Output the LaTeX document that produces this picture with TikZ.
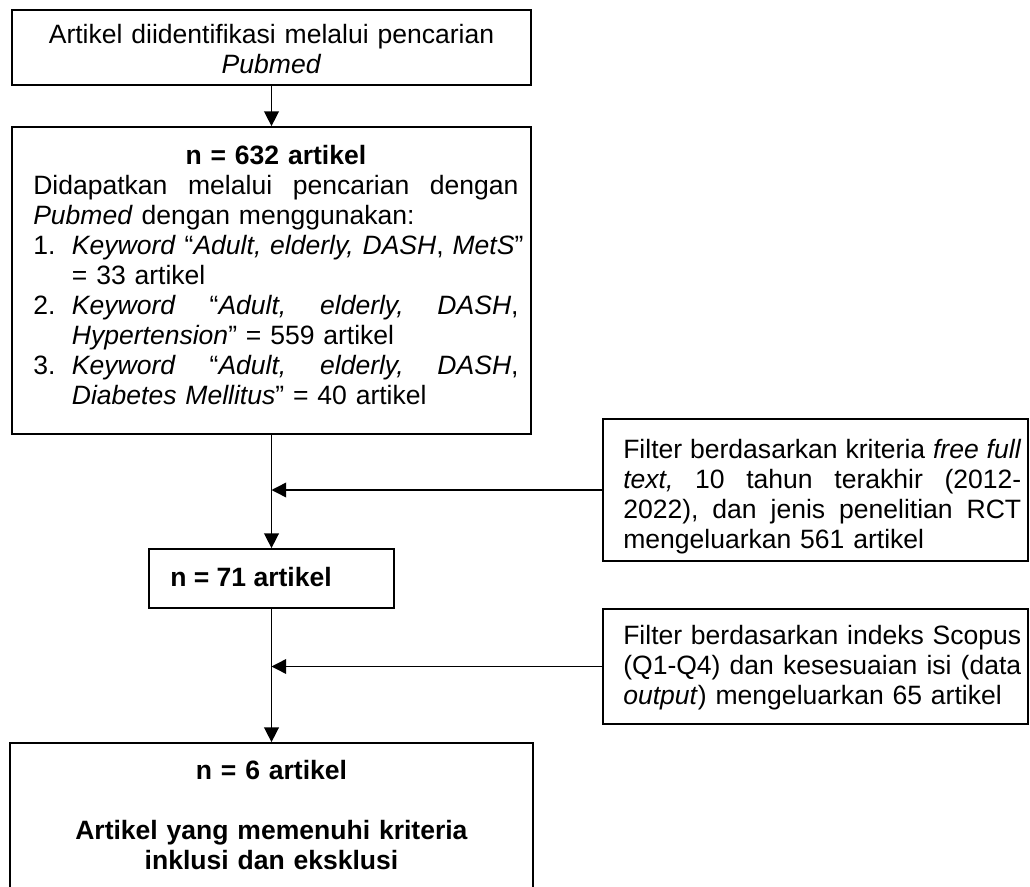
\documentclass[tikz,border=0pt]{standalone}
\usepackage{fontspec}
\setmainfont{Liberation Sans}
\usetikzlibrary{arrows.meta}
\begin{document}
\begin{tikzpicture}[x=0.75pt,y=-0.75pt,
  box/.style={draw=black, line width=1.3pt, rectangle, inner sep=0pt},
  txt/.style={inner sep=0pt, font=\fontsize{19.9pt}{22.5pt}\selectfont},
  conn/.style={line width=1.1pt},
  arr/.style={conn, -{Triangle[length=11pt,width=11pt]}}]
\useasboundingbox (0,0) rectangle (1030,887);
\clip (0,0) rectangle (1030,887);
% boxes
\node[box, minimum width=389.25pt, minimum height=56.25pt] (b1) at (271.5,47.5) {};
\node[box, minimum width=389.25pt, minimum height=230.25pt] (b2) at (271.5,280.5) {};
\node[box, minimum width=318.75pt, minimum height=106.5pt] (f1) at (815.5,490) {};
\node[box, minimum width=183.75pt, minimum height=44.25pt] (b3) at (271.5,578.5) {};
\node[box, minimum width=318.75pt, minimum height=86.25pt] (f2) at (815.5,666.5) {};
\node[box, minimum width=392.25pt, minimum height=132.75pt] (b4) at (271.5,831.5) {};
% connectors
\coordinate (j1) at (b2.south |- f1.west);
\coordinate (j2) at (b3.south |- f2.west);
\draw[arr] (b1.south) -- (b2.north);
\draw[arr] (b2.south) -- (b3.north);
\draw[arr] (f1.west) -- (j1);
\draw[arr] (b3.south) -- (b4.north);
\draw[arr] (f2.west) -- (j2);
% texts
\node[txt, text width=400pt, align=center, anchor=base] (t1) at (271.5,44)
  {Artikel diidentifikasi melalui pencarian\\\textit{Pubmed}};
\node[txt, text width=364pt, anchor=base west] (t2) at (33,165) {%
\hbox to\hsize{\hfil\textbf{n = 632 artikel}\hfil}
\hbox to\hsize{Didapatkan\hfill melalui\hfill pencarian\hfill dengan}
\hbox{\textit{Pubmed} dengan menggunakan:}
\hbox{\hbox to 29pt{1.\hfil}\textit{Keyword} “\textit{Adult, elderly, DASH}, \textit{MetS}”}
\hbox{\hbox to 29pt{}= 33 artikel}
\hbox to\hsize{\hbox to 29pt{2.\hfil}\textit{Keyword}\hfill “\textit{Adult,}\hfill\textit{elderly,}\hfill\textit{DASH},}
\hbox{\hbox to 29pt{}\textit{Hypertension}” = 559 artikel}
\hbox to\hsize{\hbox to 29pt{3.\hfil}\textit{Keyword}\hfill “\textit{Adult,}\hfill\textit{elderly,}\hfill\textit{DASH},}
\hbox{\hbox to 29pt{}\textit{Diabetes Mellitus}” = 40 artikel}};
\node[txt, text width=298.5pt, anchor=base west] (t3) at (623,458) {%
\hbox to\hsize{Filter\hfill berdasarkan\hfill kriteria\hfill\textit{free}\hfill\textit{full}}
\hbox to\hsize{\textit{text,}\hfill 10\hfill tahun\hfill terakhir\hfill (2012-}
\hbox to\hsize{2022),\hfill dan\hfill jenis\hfill penelitian\hfill RCT}
\hbox{mengeluarkan 561 artikel}};
\node[txt, anchor=base west] (t4) at (170,586) {\textbf{n = 71 artikel}};
\node[txt, text width=298.5pt, anchor=base west] (t5) at (623,644) {%
\hbox to\hsize{Filter\hfill berdasarkan\hfill indeks\hfill Scopus}
\hbox to\hsize{(Q1-Q4)\hfill dan\hfill kesesuaian\hfill isi\hfill (data}
\hbox{\textit{output}) mengeluarkan 65 artikel}};
\node[txt, text width=400pt, align=center, anchor=base] (t6) at (271.5,779)
  {\textbf{n = 6 artikel}\\[22.5pt]\textbf{Artikel yang memenuhi kriteria}\\\textbf{inklusi dan eksklusi}};
\end{tikzpicture}
\end{document}
